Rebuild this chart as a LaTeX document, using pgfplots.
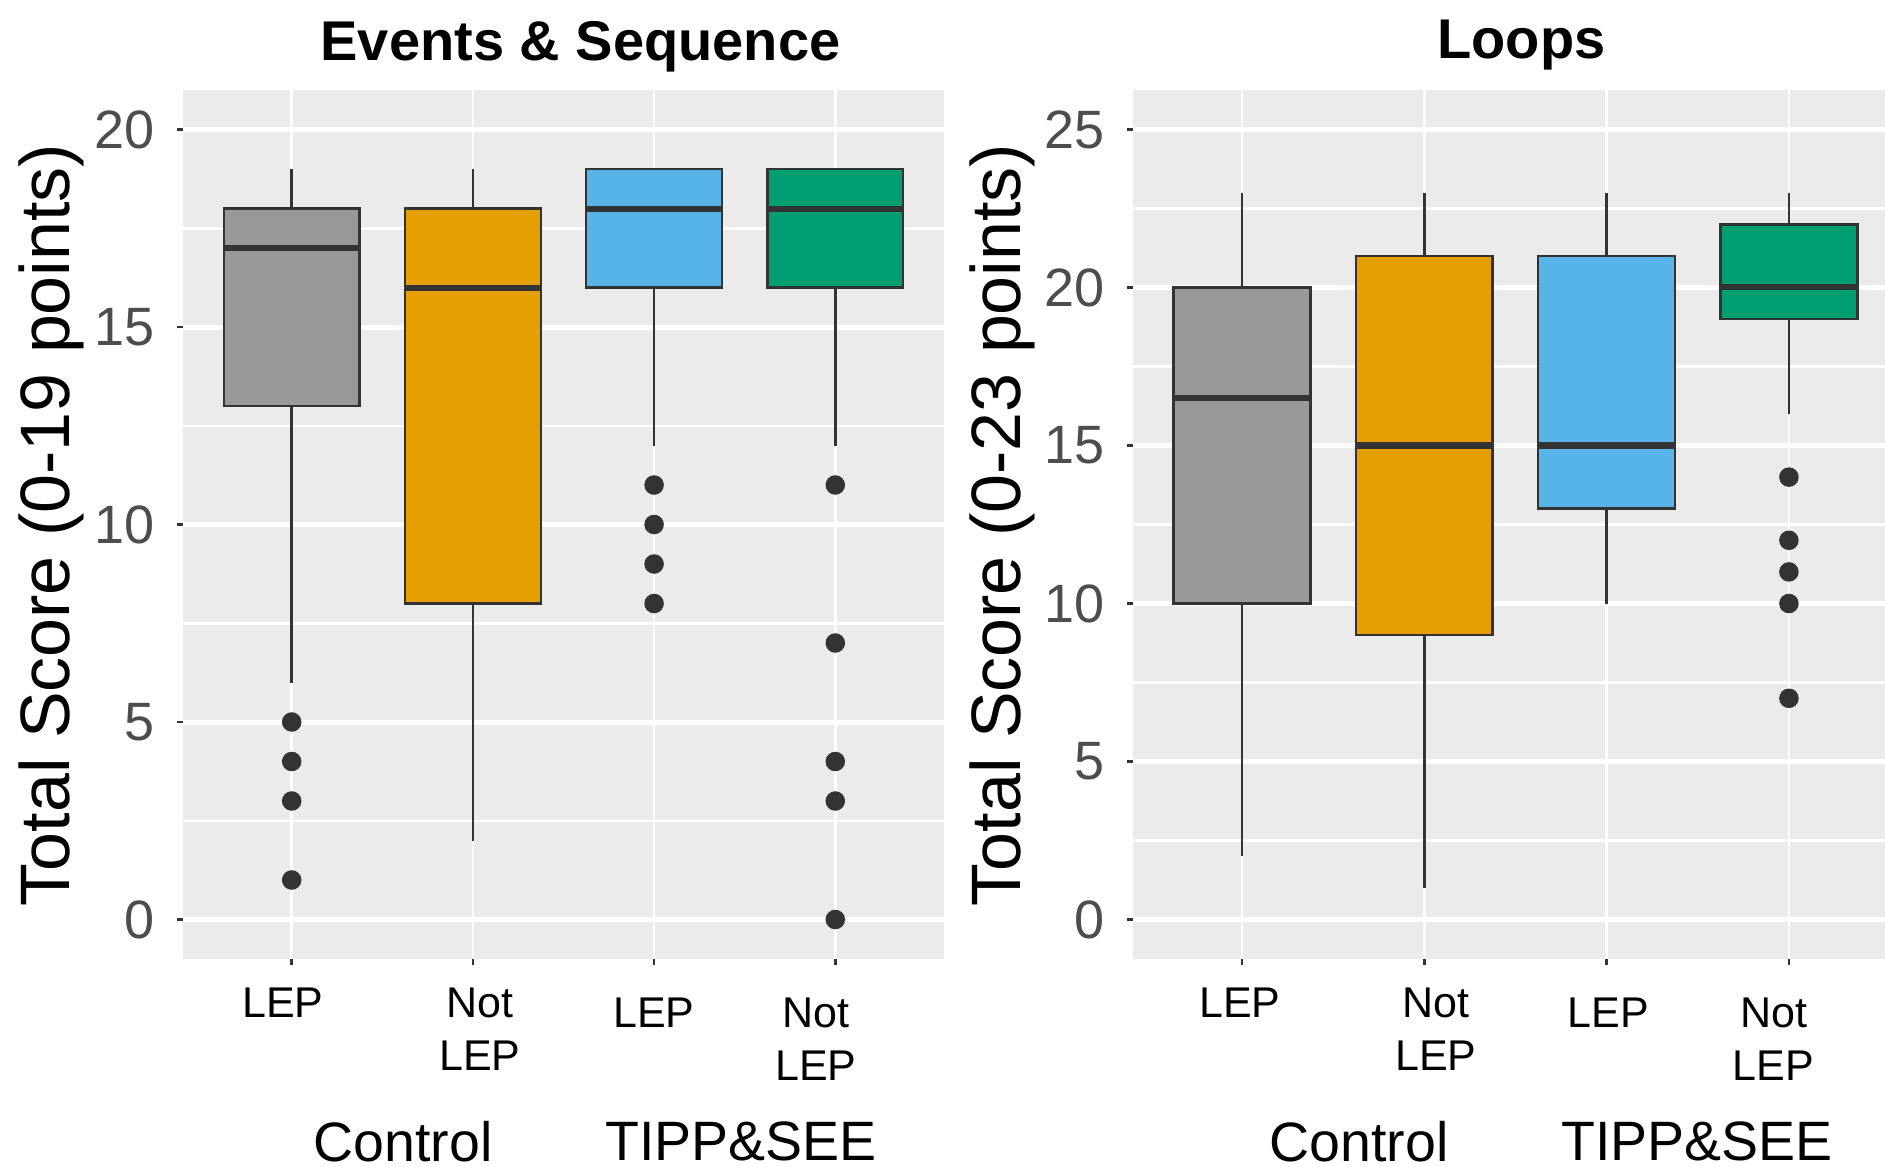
\documentclass[border=0pt]{standalone}
\usepackage{fontspec}
\setmainfont{Liberation Sans}
\usepackage{pgfplots}
\pgfplotsset{compat=1.18}
\usepgfplotslibrary{statistics}

\definecolor{panel}{HTML}{EBEBEB}
\definecolor{edge}{HTML}{333333}
\definecolor{ticktext}{HTML}{4D4D4D}
\definecolor{cgray}{HTML}{999999}
\definecolor{corange}{HTML}{E69F00}
\definecolor{cblue}{HTML}{56B4E9}
\definecolor{cgreen}{HTML}{009E73}

\pgfplotsset{
  ggpanel/.style={
    scale only axis, height=173.8pt,
    xmin=0.4, xtick={1,2,3,4}, xticklabels={,,,},
    axis background/.style={fill=panel},
    axis line style={draw=none},
    tick align=outside, xtick pos=bottom, ytick pos=left,
    major tick length=1.2pt, minor tick length=0pt,
    every tick/.style={draw=edge, line width=0.5pt},
    xmajorgrids, ymajorgrids, yminorgrids,
    major x grid style={draw=white, line width=0.55pt},
    major y grid style={draw=white, line width=1pt},
    minor y grid style={draw=white, line width=0.5pt},
    /pgf/number format/assume math mode=true,
    yticklabel style={font=\fontsize{10.8}{12}\selectfont, text=ticktext, inner sep=0pt, xshift=-4.2pt},
  },
  bx/.style={boxplot/draw direction=y, boxplot/box extend=0.75, boxplot/whisker extend=0,
    boxplot/every median/.style={line width=1.2pt},
    draw=edge, fill=#1, line width=0.5pt, solid, mark=*, mark size=1.7pt,
    mark options={draw=edge, fill=edge}},
}
\newcommand{\lab}[3]{\node[anchor=base, inner sep=0pt, font=\fontsize{8.6}{10}\selectfont] at (#1pt,#2pt) {#3};}
\newcommand{\grp}[3]{\node[anchor=base, inner sep=0pt, font=\fontsize{11.1}{13}\selectfont] at (#1pt,#2pt) {#3};}

\begin{document}
\begin{tikzpicture}
\path[use as bounding box] (-36.6pt,-41.4pt) rectangle (340.4pt,191.8pt);

% Events & Sequence
\begin{axis}[ggpanel, at={(0pt,0pt)}, anchor=south west, width=152.2pt, xmax=4.6,
  ymin=-1, ymax=21, ytick={0,5,10,15,20}, minor ytick={2.5,7.5,12.5,17.5}]
\addplot[bx=cgray, boxplot prepared={lower whisker=6, lower quartile=13, median=17,
  upper quartile=18, upper whisker=19, draw position=1}]
  table[row sep=\\, y index=0] {y\\ 5\\ 4\\ 3\\ 1\\};
\addplot[bx=corange, boxplot prepared={lower whisker=2, lower quartile=8, median=16,
  upper quartile=18, upper whisker=19, draw position=2}] coordinates {};
\addplot[bx=cblue, boxplot prepared={lower whisker=12, lower quartile=16, median=18,
  upper quartile=19, upper whisker=19, draw position=3}]
  table[row sep=\\, y index=0] {y\\ 11\\ 10\\ 9\\ 8\\};
\addplot[bx=cgreen, boxplot prepared={lower whisker=12, lower quartile=16, median=18,
  upper quartile=19, upper whisker=19, draw position=4}]
  table[row sep=\\, y index=0] {y\\ 11\\ 7\\ 4\\ 3\\ 0\\};
\end{axis}

% Loops
\begin{axis}[ggpanel, at={(189.9pt,0pt)}, anchor=south west, width=150.5pt, xmax=4.527,
  ymin=-1.25, ymax=26.25, ytick={0,5,10,15,20,25}, minor ytick={2.5,7.5,12.5,17.5,22.5}]
\addplot[bx=cgray, boxplot prepared={lower whisker=2, lower quartile=10, median=16.5,
  upper quartile=20, upper whisker=23, draw position=1}] coordinates {};
\addplot[bx=corange, boxplot prepared={lower whisker=1, lower quartile=9, median=15,
  upper quartile=21, upper whisker=23, draw position=2}] coordinates {};
\addplot[bx=cblue, boxplot prepared={lower whisker=10, lower quartile=13, median=15,
  upper quartile=21, upper whisker=23, draw position=3}] coordinates {};
\addplot[bx=cgreen, boxplot prepared={lower whisker=16, lower quartile=19, median=20,
  upper quartile=22, upper whisker=23, draw position=4}]
  table[row sep=\\, y index=0] {y\\ 14\\ 12\\ 11\\ 10\\ 7\\};
\end{axis}

% titles and axis titles
\node[anchor=base, inner sep=0pt, font=\fontsize{11.2}{13}\selectfont\bfseries] at (79.5pt,179.6pt) {Events \& Sequence};
\node[anchor=base, inner sep=0pt, font=\fontsize{11.2}{13}\selectfont\bfseries] at (267.7pt,180pt) {Loops};
\node[rotate=90, inner sep=0pt, font=\fontsize{14}{16}\selectfont] at (-26.3pt,86.8pt) {Total Score (0-19 points)};
\node[rotate=90, inner sep=0pt, font=\fontsize{14}{16}\selectfont] at (163.9pt,86.8pt) {Total Score (0-23 points)};

% category labels
\lab{20.0}{-11.6}{LEP}
\lab{59.4}{-11.6}{Not}
\lab{59.4}{-22.2}{LEP}
\lab{94.2}{-13.6}{LEP}
\lab{126.6}{-13.6}{Not}
\lab{126.6}{-24.2}{LEP}
\grp{44.0}{-40.5}{Control}
\grp{111.6}{-40.3}{TIPP\&SEE}

\lab{211.4}{-11.6}{LEP}
\lab{250.6}{-11.6}{Not}
\lab{250.6}{-22.2}{LEP}
\lab{285.1}{-13.6}{LEP}
\lab{318.1}{-13.6}{Not}
\lab{318.1}{-24.2}{LEP}
\grp{235.2}{-40.5}{Control}
\grp{302.8}{-40.3}{TIPP\&SEE}
\end{tikzpicture}
\end{document}
